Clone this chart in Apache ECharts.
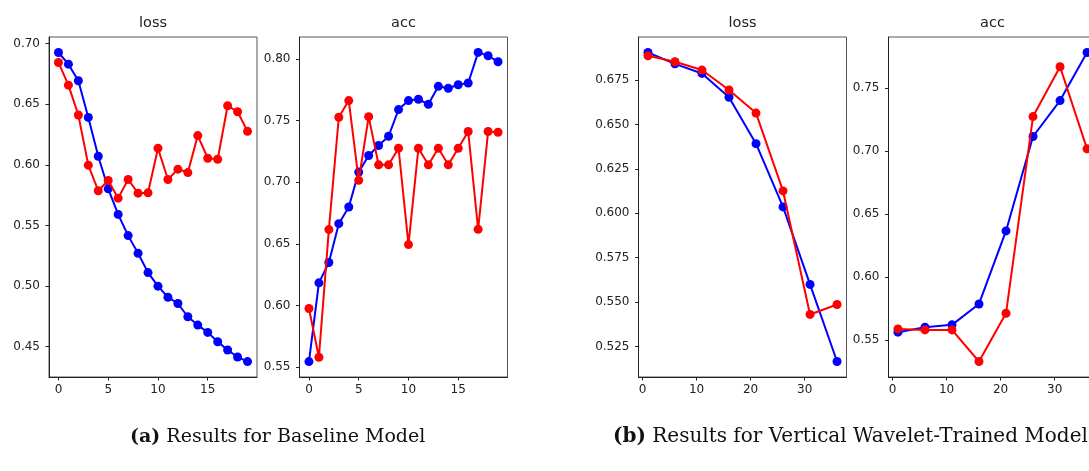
<!DOCTYPE html>
<html>
<head>
<meta charset="utf-8">
<script src="https://cdn.jsdelivr.net/npm/echarts@6/dist/echarts.min.js"></script>
<style>
html, body { margin:0; padding:0; overflow:hidden; background:#fff; width:1089px; height:471px; }
#chart { width:1110px; height:471px; }
</style>
</head>
<body>
<div id="chart"></div>
<script>
// ---- data ----
const epochsA = [0,1,2,3,4,5,6,7,8,9,10,11,12,13,14,15,16,17,18,19];
const lossTrainA = [0.6926,0.683,0.6693,0.6391,0.6071,0.5802,0.5591,0.5416,0.527,0.5111,0.4999,0.4908,0.4856,0.4747,0.4678,0.4618,0.4541,0.4473,0.4415,0.4377];
const lossValA   = [0.6844,0.6657,0.6411,0.5997,0.5786,0.5871,0.5725,0.5879,0.5766,0.5769,0.6137,0.5879,0.5964,0.5936,0.6241,0.6054,0.6046,0.6487,0.6438,0.6276];
const accTrainA  = [0.5546,0.6185,0.635,0.6665,0.68,0.7083,0.7218,0.7299,0.7374,0.759,0.7663,0.7674,0.7633,0.7779,0.7763,0.7792,0.7806,0.8054,0.8027,0.7978];
const accValA    = [0.5977,0.5581,0.6617,0.7528,0.7663,0.7016,0.7533,0.7142,0.7142,0.7277,0.6495,0.7277,0.7142,0.7277,0.7142,0.7277,0.7412,0.6619,0.7412,0.7406];

const epochsB = [1,6,11,16,21,26,31,36];
const lossTrainB = [0.6905,0.6841,0.6787,0.6653,0.6392,0.6036,0.560,0.5166];
const lossValB   = [0.6886,0.6853,0.6806,0.6694,0.6564,0.6126,0.5431,0.5487];
const accTrainB  = [0.5561,0.560,0.5619,0.5785,0.6365,0.7115,0.740,0.7782];
const accValB    = [0.5587,0.5579,0.5579,0.5328,0.5711,0.7273,0.7669,0.7017];

const xTicksA = [0,5,10,15];
const xTicksB = [0,10,20,30];
const yTicksLossA = [0.45,0.50,0.55,0.60,0.65,0.70];
const yTicksAccA  = [0.55,0.60,0.65,0.70,0.75,0.80];
const yTicksLossB = [0.525,0.550,0.575,0.600,0.625,0.650,0.675];
const yTicksAccB  = [0.55,0.60,0.65,0.70,0.75];

const titles = ['loss','acc','loss','acc'];
const captionA = 'Results for Baseline Model';
const captionB = 'Results for Vertical Wavelet-Trained Model';

// ---- chart ----
const chart = echarts.init(document.getElementById('chart'), null, {renderer:'canvas'});
const gridLefts = [49, 299.5, 638.5, 888.5];
const gridW = 208, gridTop = 37, gridH = 340;
const xRanges = [[-0.95,19.95],[-0.95,19.95],[-0.75,37.75],[-0.75,37.75]];
const yRanges = [[0.4250,0.7054],[0.5421,0.8179],[0.5079,0.6992],[0.5205,0.7905]];
const xTicks = [xTicksA,xTicksA,xTicksB,xTicksB];
const yTicks = [yTicksLossA,yTicksAccA,yTicksLossB,yTicksAccB];
const yDec = [2,2,3,2];
const labelFont = {fontFamily:'DejaVu Sans', fontSize:12, color:'#222'};

const grids = [], xAxes = [], yAxes = [], series = [], graphics = [];
const pairs = (xs, ys) => xs.map((x,i)=>[x, ys[i]]);
const seriesData = [
  [pairs(epochsA, lossTrainA), pairs(epochsA, lossValA)],
  [pairs(epochsA, accTrainA), pairs(epochsA, accValA)],
  [pairs(epochsB, lossTrainB), pairs(epochsB, lossValB)],
  [pairs(epochsB, accTrainB), pairs(epochsB, accValB)]
];
for (let i=0;i<4;i++){
  grids.push({left:gridLefts[i], top:gridTop, width:gridW, height:gridH, show:true, borderColor:'#555', borderWidth:1, backgroundColor:'#fff'});
  xAxes.push({type:'value', gridIndex:i, min:xRanges[i][0], max:xRanges[i][1],
    axisLine:{show:true, onZero:false, lineStyle:{color:'#222', width:1}},
    axisTick:{show:true, length:3.5, customValues:xTicks[i], lineStyle:{color:'#222'}},
    axisLabel:Object.assign({customValues:xTicks[i], margin:7, formatter:v=>String(v)}, labelFont),
    splitLine:{show:false}});
  const d = yDec[i];
  yAxes.push({type:'value', gridIndex:i, min:yRanges[i][0], max:yRanges[i][1],
    axisLine:{show:true, onZero:false, lineStyle:{color:'#222', width:1}},
    axisTick:{show:true, length:3.5, customValues:yTicks[i], lineStyle:{color:'#222'}},
    axisLabel:Object.assign({customValues:yTicks[i], margin:9, formatter:v=>v.toFixed(d)}, labelFont),
    splitLine:{show:false}});
  const colors = ['#0000ff','#ff0000'];
  for (let s=0;s<2;s++){
    series.push({type:'line', xAxisIndex:i, yAxisIndex:i, data:seriesData[i][s],
      symbol:'circle', symbolSize:9, showSymbol:true,
      lineStyle:{color:colors[s], width:2}, itemStyle:{color:colors[s]},
      z: 2+s, clip:false});
  }
  graphics.push({type:'text', x:gridLefts[i]+gridW/2, y:23,
    style:{text:titles[i], fill:'#222', fontFamily:'DejaVu Sans', fontSize:14.5, textAlign:'center', textVerticalAlign:'middle'}});
}
function capRich(size){
  return {b:{fontFamily:'DejaVu Serif', fontSize:size, fontWeight:'bold', fill:'#111'},
          n:{fontFamily:'DejaVu Serif', fontSize:size, fontWeight:'normal', fill:'#111'}};
}
graphics.push({type:'text', x:130, y:437, style:{fontFamily:'DejaVu Serif', fontSize:19, fill:'#111',
  text:'{b|(a)}{n| '+captionA+'}', textAlign:'left', textVerticalAlign:'middle', rich:capRich(19)}});
graphics.push({type:'text', x:613, y:437, style:{fontFamily:'DejaVu Serif', fontSize:20, fill:'#111',
  text:'{b|(b)}{n| '+captionB+'}', textAlign:'left', textVerticalAlign:'middle', rich:capRich(20)}});

chart.setOption({animation:false, backgroundColor:'#fff', grid:grids, xAxis:xAxes, yAxis:yAxes, series:series, graphic:graphics});
</script>
</body>
</html>
